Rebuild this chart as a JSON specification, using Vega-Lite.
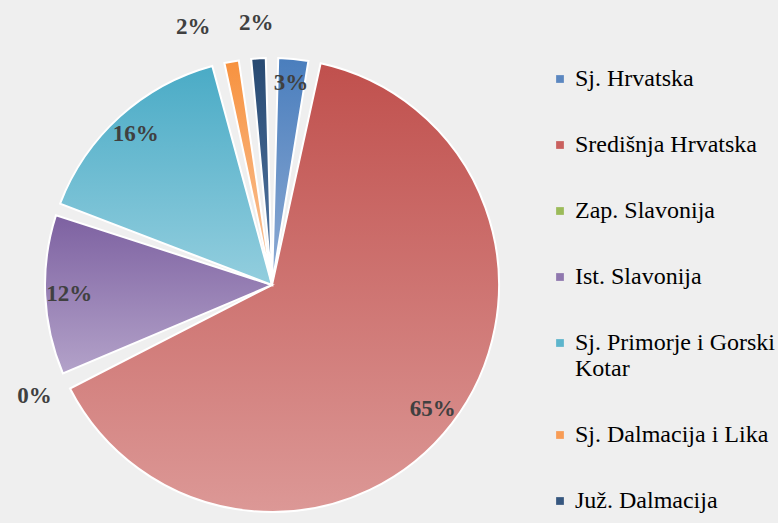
{
  "$schema": "https://vega.github.io/schema/vega-lite/v6.json",
  "width": 544,
  "height": 474,
  "autosize": "none",
  "padding": {"left": 0, "top": 48, "right": 234, "bottom": 1},
  "background": "#efefef",
  "config": {"view": {"stroke": null}},
  "data": {"values": [
    {"i": 1, "region": "Sj. Hrvatska", "value": 0.030},
    {"i": 2, "region": "Središnja Hrvatska", "value": 0.649},
    {"i": 3, "region": "Zap. Slavonija", "value": 0.003},
    {"i": 4, "region": "Ist. Slavonija", "value": 0.122},
    {"i": 5, "region": "Sj. Primorje i Gorski Kotar", "value": 0.158},
    {"i": 6, "region": "Sj. Dalmacija i Lika", "value": 0.019},
    {"i": 7, "region": "Juž. Dalmacija", "value": 0.019}
  ]},
  "transform": [
    {"stack": "value", "groupby": [], "sort": [{"field": "i", "order": "ascending"}], "as": ["v0", "v1"]},
    {"calculate": "(datum.v0 + datum.v1) / 2", "as": "mid"}
  ],
  "layer": [
    {
      "mark": {"type": "arc", "radius": 227, "padAngle": 0.055, "strokeWidth": 0},
      "encoding": {
        "theta": {"field": "v0", "type": "quantitative", "stack": null, "scale": {"domain": [0, 1]}},
        "theta2": {"field": "v1"},
        "color": {
          "field": "region", "type": "nominal",
          "scale": {
            "domain": ["Sj. Hrvatska", "Središnja Hrvatska", "Zap. Slavonija", "Ist. Slavonija", "Sj. Primorje i Gorski Kotar", "Sj. Dalmacija i Lika", "Juž. Dalmacija"],
            "range": ["#5b87c0", "#c9605e", "#9bbb59", "#8f77ae", "#5db5cc", "#f89c55", "#36577f"]
          },
          "legend": {
            "title": null,
            "orient": "none",
            "legendX": 548,
            "legendY": 19,
            "symbolType": "square",
            "symbolSize": 60,
            "symbolStrokeWidth": 0,
            "labelFont": "Liberation Serif",
            "labelFontSize": 24,
            "labelColor": "#000000",
            "labelLimit": 300,
            "labelOffset": 3,
            "rowPadding": 42,
            "labelExpr": "datum.label == 'Sj. Primorje i Gorski Kotar' ? ['Sj. Primorje i Gorski', 'Kotar'] : datum.label"
          }
        }
      }
    },
    {
      "transform": [{"filter": "datum.i == 1"}],
      "mark": {"type": "arc", "radius": 227, "padAngle": 0.055, "stroke": "white", "strokeWidth": 2,
        "color": {"gradient": "linear", "x1": 0, "y1": 0, "x2": 0, "y2": 1, "stops": [{"offset": 0, "color": "#4a7ebd"}, {"offset": 1, "color": "#8eabd4"}]}},
      "encoding": {"theta": {"field": "v0", "type": "quantitative", "stack": null, "scale": {"domain": [0, 1]}}, "theta2": {"field": "v1"}}
    },
    {
      "transform": [{"filter": "datum.i == 2"}],
      "mark": {"type": "arc", "radius": 227, "padAngle": 0.055, "stroke": "white", "strokeWidth": 2,
        "color": {"gradient": "linear", "x1": 0, "y1": 0, "x2": 0, "y2": 1, "stops": [{"offset": 0, "color": "#c0504d"}, {"offset": 1, "color": "#dc9896"}]}},
      "encoding": {"theta": {"field": "v0", "type": "quantitative", "stack": null, "scale": {"domain": [0, 1]}}, "theta2": {"field": "v1"}}
    },
    {
      "transform": [{"filter": "datum.i == 4"}],
      "mark": {"type": "arc", "radius": 227, "padAngle": 0.055, "stroke": "white", "strokeWidth": 2,
        "color": {"gradient": "linear", "x1": 0, "y1": 0, "x2": 0, "y2": 1, "stops": [{"offset": 0, "color": "#7d61a1"}, {"offset": 1, "color": "#b3a2c9"}]}},
      "encoding": {"theta": {"field": "v0", "type": "quantitative", "stack": null, "scale": {"domain": [0, 1]}}, "theta2": {"field": "v1"}}
    },
    {
      "transform": [{"filter": "datum.i == 5"}],
      "mark": {"type": "arc", "radius": 227, "padAngle": 0.055, "stroke": "white", "strokeWidth": 2,
        "color": {"gradient": "linear", "x1": 0, "y1": 0, "x2": 0, "y2": 1, "stops": [{"offset": 0, "color": "#4aabc6"}, {"offset": 1, "color": "#93cede"}]}},
      "encoding": {"theta": {"field": "v0", "type": "quantitative", "stack": null, "scale": {"domain": [0, 1]}}, "theta2": {"field": "v1"}}
    },
    {
      "transform": [{"filter": "datum.i == 6"}],
      "mark": {"type": "arc", "radius": 227, "padAngle": 0.055, "stroke": "white", "strokeWidth": 2,
        "color": {"gradient": "linear", "x1": 0, "y1": 0, "x2": 0, "y2": 1, "stops": [{"offset": 0, "color": "#f7923f"}, {"offset": 1, "color": "#fac7a0"}]}},
      "encoding": {"theta": {"field": "v0", "type": "quantitative", "stack": null, "scale": {"domain": [0, 1]}}, "theta2": {"field": "v1"}}
    },
    {
      "transform": [{"filter": "datum.i == 7"}],
      "mark": {"type": "arc", "radius": 227, "padAngle": 0.055, "stroke": "white", "strokeWidth": 2,
        "color": {"gradient": "linear", "x1": 0, "y1": 0, "x2": 0, "y2": 1, "stops": [{"offset": 0, "color": "#284a72"}, {"offset": 1, "color": "#577aa6"}]}},
      "encoding": {"theta": {"field": "v0", "type": "quantitative", "stack": null, "scale": {"domain": [0, 1]}}, "theta2": {"field": "v1"}}
    },
    {
      "transform": [{"filter": "datum.value >= 0.025"}],
      "mark": {"type": "text", "radius": 203, "font": "Liberation Serif", "fontSize": 23, "fontWeight": "bold", "color": "#404040"},
      "encoding": {
        "theta": {"field": "mid", "type": "quantitative", "stack": null, "scale": {"domain": [0, 1]}},
        "text": {"field": "value", "type": "quantitative", "format": ".0%"}
      }
    },
    {
      "transform": [{"filter": "datum.value < 0.025 && datum.i != 6"}],
      "mark": {"type": "text", "radius": 262, "font": "Liberation Serif", "fontSize": 23, "fontWeight": "bold", "color": "#404040"},
      "encoding": {
        "theta": {"field": "mid", "type": "quantitative", "stack": null, "scale": {"domain": [0, 1]}},
        "text": {"field": "value", "type": "quantitative", "format": ".0%"}
      }
    },
    {
      "transform": [{"filter": "datum.i == 6"}],
      "mark": {"type": "text", "radius": 262, "dx": -32, "font": "Liberation Serif", "fontSize": 23, "fontWeight": "bold", "color": "#404040"},
      "encoding": {
        "theta": {"field": "mid", "type": "quantitative", "stack": null, "scale": {"domain": [0, 1]}},
        "text": {"field": "value", "type": "quantitative", "format": ".0%"}
      }
    }
  ]
}
